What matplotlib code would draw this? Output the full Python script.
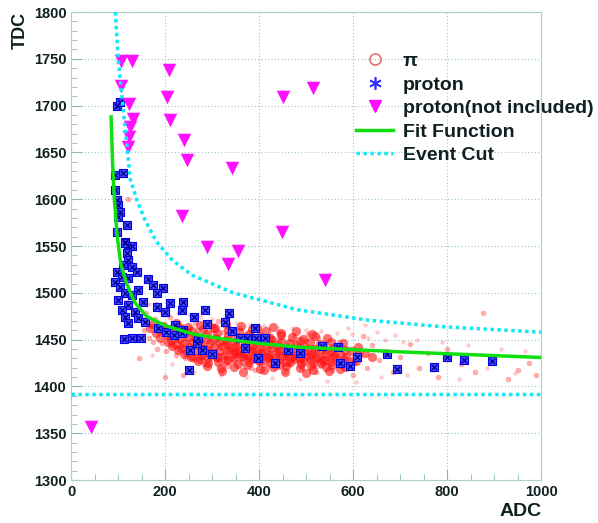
import matplotlib
matplotlib.use("Agg")
import matplotlib.pyplot as plt
from matplotlib.lines import Line2D
from matplotlib.ticker import MultipleLocator

# pi events (ADC, TDC): scattered part
pi_adc = [150, 155, 160, 165, 170, 175, 178, 182, 186, 190, 194, 198, 202, 206, 210, 214, 218, 222, 226, 230,
          234, 238, 242, 246, 250, 254, 258, 262, 266, 270, 274, 278, 282, 286, 290, 294, 298, 302, 306, 310,
          314, 318, 322, 326, 330, 334, 338, 342, 346, 350, 354, 358, 362, 366, 370, 374, 378, 382, 386, 390,
          394, 398, 402, 406, 410, 414, 418, 422, 426, 430, 434, 438, 442, 446, 450, 455, 460, 465, 470, 475,
          480, 485, 490, 495, 500, 505, 510, 515, 520, 525, 530, 535, 540, 545, 550, 555, 560,
          264, 280, 296, 312, 328, 344, 360, 376, 392, 408, 424, 440, 456, 472, 488, 504, 520, 536,
          570, 580, 590, 600, 610, 620, 630, 640, 655, 670, 685, 700,
          720, 740, 760, 780, 800, 830, 860, 876, 900, 930, 950, 975, 990,
          110, 118, 125, 132, 140, 120, 145, 200, 238, 180]
pi_tdc = [1470, 1460, 1478, 1452, 1465, 1448, 1472, 1440, 1458, 1482, 1446, 1466, 1438, 1455, 1474, 1444, 1460, 1434, 1450, 1468,
          1442, 1456, 1430, 1448, 1462, 1440, 1452, 1428, 1446, 1460, 1436, 1450, 1424, 1442, 1456, 1432, 1448, 1466, 1438, 1452,
          1428, 1444, 1458, 1434, 1448, 1422, 1440, 1454, 1430, 1446, 1436, 1450, 1426, 1442, 1456, 1432, 1446, 1420, 1438, 1452,
          1428, 1444, 1460, 1434, 1448, 1424, 1440, 1454, 1430, 1446, 1420, 1436, 1450, 1428, 1442, 1432, 1448, 1424, 1440, 1454,
          1430, 1444, 1420, 1436, 1450, 1428, 1442, 1426, 1438, 1452, 1422, 1436, 1446, 1430, 1440, 1418, 1434,
          1468, 1432, 1440, 1470, 1424, 1436, 1462, 1440, 1418, 1430, 1438, 1458, 1416, 1436, 1428, 1456, 1416, 1424,
          1448, 1426, 1440, 1412, 1436, 1454, 1420, 1444, 1428, 1438, 1416, 1432,
          1445, 1420, 1436, 1410, 1440, 1424, 1415, 1479, 1430, 1408, 1418, 1425, 1412,
          1476, 1490, 1468, 1500, 1480, 1600, 1430, 1410, 1412, 1488]

# pi events: faint halo around the band
halo_adc = [165, 185, 205, 228, 252, 276, 300, 325, 352, 380, 410, 440, 470, 500, 532, 565, 598, 632, 668, 705,
            172, 215, 262, 318, 372, 428, 486, 545, 605, 660, 715, 770, 825, 885, 945,
            590, 625, 650, 690, 735, 790, 845, 915, 965]
halo_tdc = [1488, 1485, 1480, 1478, 1476, 1474, 1472, 1470, 1468, 1466, 1465, 1463, 1462, 1460, 1459, 1457, 1456, 1452, 1450, 1448,
            1434, 1424, 1416, 1412, 1410, 1409, 1408, 1406, 1405, 1410, 1412, 1418, 1408, 1420, 1414,
            1462, 1466, 1458, 1455, 1450, 1447, 1444, 1440, 1438]

# pi events: dense core of the band
core_adc = [175, 196, 222, 248, 275, 301, 330, 362, 395, 430,
            168, 188, 210, 233, 257, 280, 306, 333, 358, 385, 414, 446, 478, 512,
            180, 203, 224, 246, 266, 289, 311, 334, 355, 379, 401, 424, 447, 470, 494, 519, 545,
            190, 213, 232, 251, 271, 290, 309, 329, 348, 367, 388, 407, 427, 446, 466, 487, 508, 530, 553, 578,
            205, 222, 241, 259, 277, 296, 314, 332, 350, 369, 387, 405, 423, 441, 460, 478, 497, 516, 536, 557, 582, 610,
            215, 233, 250, 268, 285, 303, 320, 338, 355, 373, 390, 408, 425, 443, 460, 478, 495, 513, 531, 550, 572, 597, 625,
            228, 246, 263, 280, 298, 315, 333, 350, 368, 385, 403, 420, 438, 455, 473, 490, 508, 525, 543, 562, 585, 611, 640,
            240, 258, 276, 293, 311, 328, 346, 363, 381, 398, 416, 433, 451, 468, 486, 503, 521, 539, 558, 580, 606,
            255, 274, 292, 310, 329, 347, 366, 384, 403, 421, 440, 458, 477, 495, 514, 533, 553, 575, 600,
            270, 291, 312, 334, 356, 378, 400, 422, 444, 466, 488, 510, 532, 556, 582,
            290, 318, 346, 374, 402, 430, 458, 486, 514, 542, 572,
            320, 365, 410, 455, 500, 548]
core_tdc = [1467, 1465, 1468, 1464, 1466, 1463, 1467, 1465, 1462, 1464,
            1462, 1460, 1461, 1463, 1459, 1461, 1462, 1460, 1458, 1461, 1459, 1457, 1459, 1456,
            1457, 1455, 1456, 1458, 1454, 1456, 1457, 1455, 1453, 1456, 1454, 1452, 1455, 1453, 1451, 1454, 1452,
            1452, 1450, 1451, 1453, 1449, 1451, 1452, 1450, 1448, 1451, 1449, 1447, 1450, 1448, 1446, 1449, 1447, 1445, 1448, 1446,
            1447, 1445, 1446, 1448, 1444, 1446, 1447, 1445, 1443, 1446, 1444, 1442, 1445, 1443, 1441, 1444, 1442, 1440, 1443, 1441, 1439, 1442,
            1443, 1441, 1442, 1444, 1440, 1442, 1443, 1441, 1439, 1442, 1440, 1438, 1441, 1439, 1437, 1440, 1438, 1436, 1439, 1437, 1435, 1438, 1436,
            1439, 1437, 1438, 1440, 1436, 1438, 1439, 1437, 1435, 1438, 1436, 1434, 1437, 1435, 1433, 1436, 1434, 1432, 1435, 1433, 1431, 1434, 1432,
            1435, 1433, 1434, 1436, 1432, 1434, 1435, 1433, 1431, 1434, 1432, 1430, 1433, 1431, 1429, 1432, 1430, 1428, 1431, 1429, 1427,
            1431, 1429, 1430, 1432, 1428, 1430, 1431, 1429, 1427, 1430, 1428, 1426, 1429, 1427, 1425, 1428, 1426, 1424, 1427,
            1427, 1425, 1426, 1428, 1424, 1426, 1427, 1425, 1423, 1426, 1424, 1422, 1425, 1423, 1421,
            1422, 1420, 1421, 1423, 1419, 1421, 1422, 1420, 1418, 1421, 1419,
            1417, 1415, 1418, 1416, 1414, 1417]

# proton events
proton_adc = [98, 104, 111, 94, 94, 98, 100, 104, 100, 119, 98, 115, 121,
              115, 130, 119, 121, 111, 130, 98, 140, 109, 121, 94, 164, 104, 143, 174, 196, 115, 130, 183,
              100, 153, 121, 211, 183, 238, 109, 136, 200, 236, 115, 143, 157, 121, 185, 221, 238, 113, 130, 149,
              285, 336, 262, 289, 328, 343, 374, 391, 413, 253, 279, 300, 370, 398, 434, 251, 268, 232, 202,
              219, 236, 270, 360, 394, 462, 487, 534, 568, 572, 594, 608, 672, 694, 772, 800, 836, 896]
proton_tdc = [1700, 1704, 1628, 1626, 1610, 1599, 1594, 1586, 1581, 1572, 1565, 1554, 1550,
              1553, 1550, 1543, 1535, 1530, 1528, 1522, 1522, 1517, 1516, 1512, 1515, 1506, 1503, 1508, 1505, 1500, 1498, 1500,
              1492, 1490, 1487, 1489, 1485, 1490, 1482, 1480, 1480, 1482, 1474, 1473, 1469, 1468, 1462, 1466, 1460, 1451, 1452, 1452,
              1482, 1478, 1474, 1467, 1469, 1459, 1452, 1462, 1452, 1439, 1439, 1435, 1441, 1430, 1425, 1418, 1446, 1460, 1458,
              1455, 1457, 1452, 1452, 1452, 1439, 1436, 1443, 1442, 1425, 1422, 1431, 1435, 1419, 1421, 1431, 1428, 1427]

# protons left out of the fit
excl_adc = [107, 130, 208, 106, 204, 451, 124, 211, 132, 125, 124, 240, 121, 246, 342, 236, 448, 289, 354, 334, 515, 540, 42]
excl_tdc = [1748, 1748, 1738, 1721, 1709, 1709, 1702, 1685, 1686, 1677, 1666, 1663, 1656, 1642, 1633, 1582, 1565, 1549, 1545, 1531, 1719, 1514, 1357]

# fit function
fit_adc = [85, 88, 92, 98, 106, 118, 135, 160, 200, 260, 320, 400, 487, 700, 1000]
fit_tdc = [1688, 1640, 1600, 1560, 1530, 1510, 1490, 1475, 1465, 1456, 1451, 1446, 1442, 1437, 1431]

# event cut: upper curve and lower flat level
cut_adc = [94, 100, 110, 120, 126, 140, 157, 181, 215, 257, 345, 481, 630, 785, 1000]
cut_tdc = [1800, 1750, 1700, 1650, 1621, 1599, 1578, 1555, 1535, 1519, 1500, 1482, 1471, 1464, 1458]
cut_low = 1392

plt.rcParams['font.family'] = ['Liberation Sans', 'DejaVu Sans']
fig = plt.figure(figsize=(5.98, 5.23), dpi=100)
ax = fig.add_axes([0.119, 0.082, 0.786, 0.895])

ax.scatter(halo_adc, halo_tdc, s=10, color='#ff5050', alpha=0.3, linewidths=0, zorder=2)
ax.scatter(pi_adc, pi_tdc, s=16, color='#ff3030', alpha=0.4, linewidths=0, zorder=2)
ax.scatter(core_adc, core_tdc, s=44, color='#ff1010', alpha=0.6, linewidths=0, zorder=2)
ax.scatter(proton_adc, proton_tdc, s=26, marker='s', facecolor='#4848ff', edgecolor='#0000e0', linewidths=0.8, zorder=3)
ax.scatter(proton_adc, proton_tdc, s=15, marker='x', color='#000090', linewidths=0.9, zorder=4)
ax.scatter(excl_adc, excl_tdc, s=95, marker='v', color='#ff10ff', linewidths=0, zorder=4)
ax.plot(fit_adc, fit_tdc, color='#10e010', lw=2.5, zorder=5)
ax.plot(cut_adc, cut_tdc, color='#10e8f8', lw=2.5, ls=(0, (1, 1)), zorder=5)
ax.plot([0, 1000], [cut_low, cut_low], color='#10e8f8', lw=2.5, ls=(0, (1, 1)), zorder=5)

ax.set_xlim(0, 1000)
ax.set_ylim(1300, 1800)
ax.xaxis.set_major_locator(MultipleLocator(200))
ax.xaxis.set_minor_locator(MultipleLocator(50))
ax.yaxis.set_major_locator(MultipleLocator(50))
ax.yaxis.set_minor_locator(MultipleLocator(10))
ax.tick_params(which='both', direction='in', color='#8fb8b8', labelcolor='#102020')
ax.tick_params(which='major', length=8, labelsize=10.5)
ax.tick_params(which='minor', length=4)
for lab in ax.get_xticklabels() + ax.get_yticklabels():
    lab.set_fontweight('bold')
for sp in ax.spines.values():
    sp.set_color('#a8d0d0')
ax.grid(True, which='major', color='#9cc8c8', ls=(0, (1, 2)), lw=0.8)

fig.text(0.02, 0.977, 'TDC', rotation=90, ha='left', va='top', fontsize=13, fontweight='bold', color='#102020')
fig.text(0.905, 0.005, 'ADC', ha='right', va='bottom', fontsize=14, fontweight='bold', color='#102020')

handles = [
    Line2D([], [], ls='', marker='o', mfc='none', mec='#e07070', ms=8, mew=1.2),
    Line2D([], [], ls='', marker=(6, 2, 0), color='#3030ff', ms=9, mew=1.2),
    Line2D([], [], ls='', marker='v', color='#ff10ff', ms=8),
    Line2D([], [], color='#10e010', lw=2.5),
    Line2D([], [], color='#10e8f8', lw=2.5, ls=(0, (1, 1))),
]
labels = ['π', 'proton', 'proton(not included)', 'Fit Function', 'Event Cut']
leg = ax.legend(handles, labels, loc='upper left', bbox_to_anchor=(0.59, 0.93), frameon=False,
                prop={'size': 14, 'weight': 'bold'}, handlelength=1.9, handletextpad=0.5,
                labelspacing=0.3, borderaxespad=0)
for t in leg.get_texts():
    t.set_color('#102020')

fig.savefig('out.png', dpi=100)
